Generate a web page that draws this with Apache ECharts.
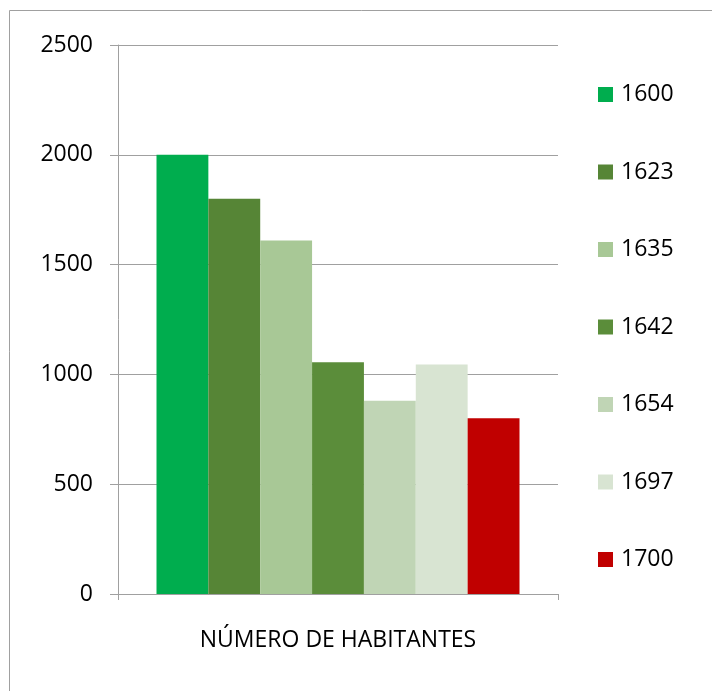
<!DOCTYPE html>
<html>
<head>
<meta charset="utf-8">
<script src="https://cdn.jsdelivr.net/npm/echarts@6/dist/echarts.min.js"></script>
<style>
  html, body { margin: 0; padding: 0; background: #fff; }
  #chart { width: 712px; height: 691px; }
</style>
</head>
<body>
<div id="chart"></div>
<script>
// datos
var years = ['1600', '1623', '1635', '1642', '1654', '1697', '1700'];
var habitantes = [2000, 1800, 1610, 1055, 880, 1045, 800];
var colores = ['#00AD4E', '#568536', '#A8C896', '#5B8D3A', '#C0D5B5', '#D8E4D2', '#C00000'];
var yTicks = [0, 500, 1000, 1500, 2000, 2500];

var fuente = '"Open Sans", "Liberation Sans", sans-serif';
var gris = '#A0A0A0';

var chart = echarts.init(document.getElementById('chart'));

var series = years.map(function (y, i) {
    return {
        name: y,
        type: 'bar',
        barGap: '0%',
        barCategoryGap: '17.5%',
        itemStyle: { color: colores[i] },
        data: [habitantes[i]]
    };
});

var option = {
    backgroundColor: '#fff',
    animation: false,
    grid: {
        left: 118,
        right: 154,
        top: 45,
        bottom: 97,
        containLabel: false
    },
    graphic: [{
        type: 'rect',
        shape: { x: 9.5, y: 10.5, width: 720, height: 700 },
        style: { fill: 'none', stroke: gris, lineWidth: 1 },
        silent: true
    }],
    legend: {
        orient: 'vertical',
        left: 598,
        top: 83,
        padding: 0,
        itemWidth: 15,
        itemHeight: 15,
        itemGap: 54.5,
        icon: 'rect',
        textStyle: {
            fontFamily: fuente,
            fontSize: 23,
            lineHeight: 23,
            color: '#000',
            padding: [0, 0, 0, 3]
        },
        data: years
    },
    xAxis: {
        type: 'category',
        data: [''],
        name: 'NÚMERO DE HABITANTES',
        nameLocation: 'middle',
        nameGap: 35,
        nameTextStyle: {
            fontFamily: fuente,
            fontSize: 23,
            color: '#000'
        },
        axisLine: { show: true, lineStyle: { color: gris, width: 1 } },
        axisTick: { show: true, length: 6, lineStyle: { color: gris } },
        axisLabel: { show: false },
        splitLine: { show: false }
    },
    yAxis: {
        type: 'value',
        min: yTicks[0],
        max: yTicks[yTicks.length - 1],
        interval: 500,
        axisLine: { show: true, lineStyle: { color: gris, width: 1 } },
        axisTick: { show: true, length: 8, lineStyle: { color: gris } },
        axisLabel: {
            margin: 25,
            fontFamily: fuente,
            fontSize: 23,
            color: '#000',
            formatter: function (v) { return String(v); }
        },
        splitLine: { show: true, lineStyle: { color: gris, width: 1 } }
    },
    series: series
};

chart.setOption(option);
</script>
</body>
</html>
